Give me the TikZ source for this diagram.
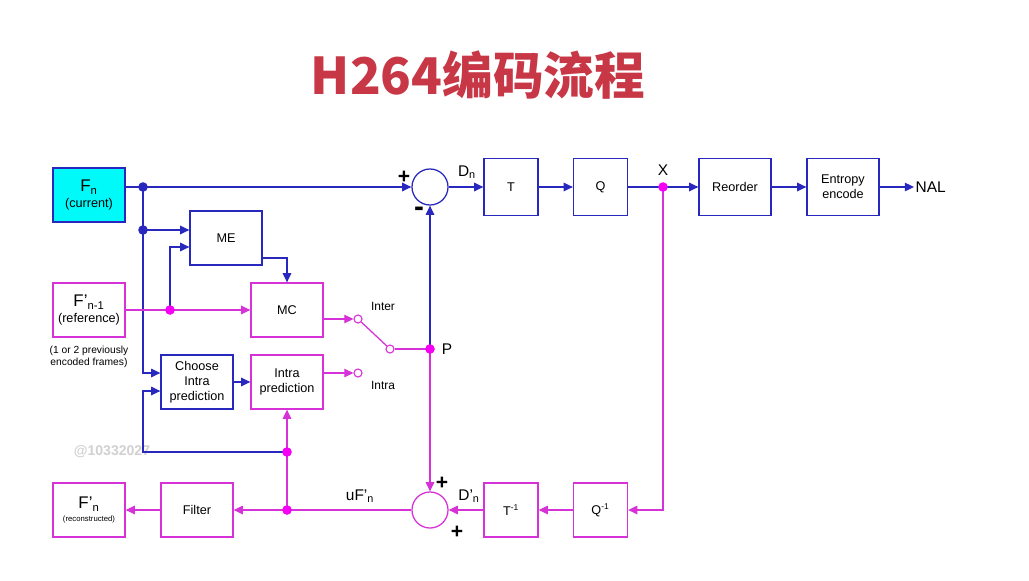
\documentclass[tikz,border=0pt]{standalone}
\usepackage{fontspec}
\setmainfont{Liberation Sans}
\newfontfamily\cjk{Noto Sans CJK SC}
\usepackage{xcolor}
\usepackage{tikz}
\usetikzlibrary{arrows.meta,positioning,calc}

\definecolor{encblue}{RGB}{40,40,190}
\definecolor{encpink}{RGB}{215,50,215}
\definecolor{dotpink}{RGB}{245,0,245}
\definecolor{titlered}{RGB}{200,55,70}
\definecolor{fncyan}{RGB}{0,250,250}

\begin{document}
\begin{tikzpicture}[
  x=0.025cm, y=-0.025cm,
  every node/.style={font=\fontsize{9}{10.8}\selectfont, align=center},
  bbox/.style={rectangle, draw=encblue, line width=0.9pt, minimum width=1.8cm, minimum height=1.35cm, inner sep=1pt},
  pbox/.style={bbox, draw=encpink},
  tqbox/.style={minimum width=1.35cm},
  sumnode/.style={circle, line width=0.9pt, minimum size=0.9cm, inner sep=0pt},
  contact/.style={circle, draw=encpink, fill=white, line width=0.8pt, minimum size=0.2cm, inner sep=0pt},
  sign/.style={font=\bfseries\fontsize{15}{15}\selectfont, inner sep=0pt},
  lbl/.style={font=\fontsize{11}{12}\selectfont, inner sep=1pt},
  bline/.style={draw=encblue, line width=0.9pt},
  pline/.style={draw=encpink, line width=0.9pt},
  bto/.style={bline, -{Triangle[length=6.5pt,width=6pt]}},
  pto/.style={pline, -{Triangle[length=6.5pt,width=6pt]}}
]
  \fill[white] (0,0) rectangle (1029,580);
  \useasboundingbox (0,0) rectangle (1029,580);

  % title
  \node[text=titlered, font=\cjk\bfseries\fontsize{36}{40}\selectfont] (title) at (478,75) {H264编码流程};

  % watermark
  \node[text=black!18, font=\bfseries\fontsize{10}{11}\selectfont] (wm) at (112,452) {@10332027};

  % frames
  \node[bbox, fill=fncyan] (Fn) at (89,195) {{\fontsize{12}{13}\selectfont F\textsubscript{n}}\\(current)};
  \node[pbox] (Fref) at (89,310) {{\fontsize{12}{13}\selectfont F'\textsubscript{n-1}}\\(reference)};
  \node[font=\fontsize{7.3}{8.6}\selectfont] (prev) at (89,357) {(1 or 2 previously\\encoded frames)};
  \node[pbox] (Fr) at (89,510) {{\fontsize{12}{11}\selectfont F'\textsubscript{n}}\\[-2pt]{\fontsize{5.5}{6}\selectfont (reconstructed)}};

  % prediction blocks
  \node[bbox] (ME) at (226,238) {ME};
  \node[pbox] (MC) at (287,310) {MC};
  \node[bbox] (choose) at (197,382) {Choose\\Intra\\prediction};
  \node[pbox] (intra) at (287,382) {Intra\\prediction};
  \node[pbox] (filter) at (197,510) {Filter};

  % forward and inverse transform path
  \node[sumnode, draw=encblue] (sumA) at (430,187) {};
  \node[bbox, tqbox, minimum height=1.425cm] (T) at (511,187) {T};
  \node[bbox, tqbox, minimum height=1.425cm] (Q) at (600.5,187) {Q};
  \node[bbox, minimum height=1.425cm] (reorder) at (735,187) {Reorder};
  \node[bbox, minimum height=1.425cm] (entropy) at (843,187) {Entropy\\encode};
  \node[lbl, anchor=west] (nal) at (914,187) {NAL};
  \node[sumnode, draw=encpink] (sumB) at (430,510) {};
  \node[pbox, tqbox] (Ti) at (511,510) {T\textsuperscript{-1}};
  \node[pbox, tqbox] (Qi) at (600.5,510) {Q\textsuperscript{-1}};

  % switch
  \node[contact] (cInter) at (358,319) {};
  \node[contact] (cIntra) at (358,373) {};
  \node[contact] (cSw) at (390,349) {};
  \node[font=\fontsize{8.5}{10}\selectfont] (inter) at (383,306) {Inter};
  \node[font=\fontsize{8.5}{10}\selectfont] (intraLbl) at (383,385) {Intra};

  % labels
  \node[lbl] (Dn) at (467,172) {D\textsubscript{n}};
  \node[lbl] (X) at (663,170) {X};
  \node[lbl] (P) at (447,349) {P};
  \node[lbl] (uFn) at (360,496) {uF'\textsubscript{n}};
  \node[lbl] (Dpn) at (469,496) {D'\textsubscript{n}};
  \node[sign] (plusA) at (404,177) {+};
  \node[sign, font=\bfseries\fontsize{21}{21}\selectfont] (minusA) at (419,212) {-};
  \node[sign] (plusB) at (442,483) {+};
  \node[sign] (plusC) at (457,532) {+};

  % junctions
  \coordinate (jtop) at (143,187);
  \coordinate (jme) at (143,230);
  \coordinate (jref) at (170,310);
  \coordinate (jP) at (430,349);
  \coordinate (jX) at (663,187);
  \coordinate (jloop) at (287,452);
  \coordinate (jrec) at (287,510);
  \coordinate (chooseA) at ($(choose.west)+(0,-9)$);
  \coordinate (chooseB) at ($(choose.west)+(0,9)$);

  % blue connectors
  \draw[bto] (Fn.east |- jtop) -- (sumA);
  \draw[bto] (sumA) -- (T);
  \draw[bto] (T) -- (Q);
  \draw[bto] (Q) -- (reorder);
  \draw[bto] (reorder) -- (entropy);
  \draw[bto] (entropy) -- (nal);
  \draw[bto] (jtop) |- (chooseA);
  \draw[bto] (jme) -- (jme -| ME.west);
  \draw[bto] (jref) |- ($(ME.west)+(0,9)$);
  \draw[bto] ($(ME.east)+(0,20)$) -| (MC.north);
  \draw[bto] (choose) -- (intra);
  \draw[bto] (jloop) -| (jtop |- chooseB) -- (chooseB);
  \draw[bto] (jP) -- (sumA);

  % magenta connectors
  \draw[pto] (Fref) -- (MC);
  \draw[pto] ($(MC.east)+(0,9)$) -- (cInter);
  \draw[pto] ($(intra.east)+(0,-9)$) -- (cIntra);
  \draw[pline] (cInter) -- (cSw);
  \draw[pline] (cSw) -- (jP);
  \draw[pto] (jP) -- (sumB);
  \draw[pto] (jX) |- (Qi);
  \draw[pto] (Qi) -- (Ti);
  \draw[pto] (Ti) -- (sumB);
  \draw[pto] (sumB) -- (filter);
  \draw[pto] (filter) -- (Fr);
  \draw[pto] (jrec) -- (intra);

  % dots
  \foreach \j in {jtop, jme}
    \fill[encblue] (\j) circle[radius=0.12cm];
  \foreach \j in {jref, jP, jX, jloop, jrec}
    \fill[dotpink] (\j) circle[radius=0.12cm];
\end{tikzpicture}
\end{document}
